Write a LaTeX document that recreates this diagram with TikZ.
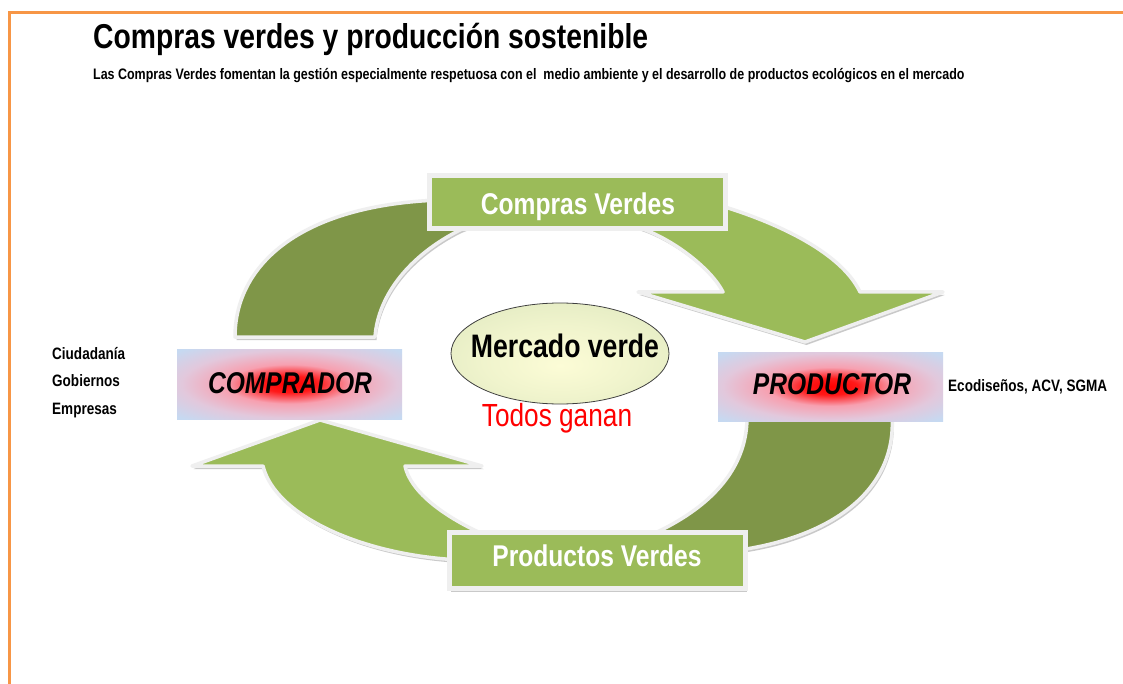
\documentclass[tikz,border=0pt]{standalone}
\usepackage{fontspec}
\setmainfont{Liberation Sans}[FakeStretch=0.82]
\usetikzlibrary{shapes.geometric,shadows}
\definecolor{darkband}{HTML}{7F9648}
\definecolor{boxgreen}{HTML}{9BBB59}
\definecolor{boxblue}{HTML}{C6D9F1}
\definecolor{pageorange}{HTML}{F79646}
\definecolor{outl}{HTML}{EFEFEF}
\definecolor{ellin}{HTML}{FCFCD6}
\definecolor{ellout}{HTML}{D3E0B6}
\definecolor{glowred}{HTML}{FF0000}
\definecolor{glowpink}{HTML}{F7A0B0}
\definecolor{glowpale}{HTML}{E2C8DC}
\pgfdeclareradialshading{redglow}{\pgfpoint{0bp}{0bp}}{color(0bp)=(glowred); color(6bp)=(glowred!90!white); color(14bp)=(glowpink); color(24bp)=(glowpale); color(34bp)=(boxblue); color(50bp)=(boxblue)}
\pgfdeclareradialshading{ellglow}{\pgfpoint{0bp}{-6bp}}{color(0bp)=(ellin); color(18bp)=(ellin!70!ellout); color(50bp)=(ellout)}
\tikzset{
  band/.style={draw=outl, line width=3.5, line join=round,
    drop shadow={shadow xshift=1.5pt, shadow yshift=-3pt, opacity=0.35, fill=black!60}},
  darkshape/.style={band, fill=darkband},
  lightshape/.style={band, fill=boxgreen},
  greenbox/.style={rectangle, fill=boxgreen, draw=outl, line width=5,
    drop shadow={shadow xshift=1.5pt, shadow yshift=-3pt, opacity=0.35, fill=black!60}},
  bluebox/.style={rectangle, shading=redglow, minimum width=225, minimum height=70, inner sep=0},
  boxtext/.style={text=white, font=\fontsize{30}{34}\selectfont\bfseries, inner sep=0},
  roletext/.style={text=black, font=\fontsize{30}{34}\selectfont\bfseries\itshape, inner sep=0},
  sidetext/.style={text=black, font=\fontsize{16.5}{19}\selectfont\bfseries, inner sep=0, anchor=base west},
}
\begin{document}
\begin{tikzpicture}[x=1pt,y=-1pt]
\useasboundingbox (0,0) rectangle (1123,684);
\fill[white] (0,0) rectangle (1123,684);
% page frame
\draw[pageorange, line width=3] (9,684) -- (9,13) -- (1123,13);

% title
\node[anchor=base west, inner sep=0, font=\fontsize{34.5}{40}\selectfont\bfseries] (title) at (93,48.5) {Compras verdes y producción sostenible};
\node[anchor=base west, inner sep=0, font=\fontsize{15.2}{17}\selectfont\bfseries] (subtitle) at (93,79.5) {Las Compras Verdes fomentan la gestión especialmente respetuosa con el\ \ medio ambiente y el desarrollo de productos ecológicos en el mercado};

% top-left dark band
\path[darkshape] (235,337) .. controls (235,265) and (300,205) .. (440,200) -- (470,200) -- (470,226) -- (460,230)
  .. controls (410,255) and (378,295) .. (375,337) -- cycle;
% top-right light arrow
\path[lightshape] (715,204) .. controls (770,220) and (840,250) .. (860,292) -- (943,292) -- (805,342) -- (638,292) -- (723,292)
  .. controls (712,270) and (675,240) .. (640,228) -- (640,205) -- cycle;
% bottom-right dark band
\path[darkshape] (747,415) -- (892,415) .. controls (897,485) and (840,535) .. (740,550) -- (650,550) -- (655,533)
  .. controls (715,505) and (748,465) .. (747,415) -- cycle;
% bottom-left light arrow
\path[lightshape] (263,466) -- (192,466) -- (320,420) -- (482,466) -- (405,466)
  .. controls (410,490) and (440,515) .. (485,535) -- (485,560) -- (460,560)
  .. controls (360,555) and (275,515) .. (263,466) -- cycle;

% green label boxes
\node[greenbox, minimum width=296, minimum height=53] (comprasbox) at (577.5,202) {};
\node[boxtext, anchor=base] (comprastxt) at (578,215) {Compras Verdes};
\node[greenbox, minimum width=296, minimum height=56] (productosbox) at (597.5,560.5) {};
\node[boxtext, anchor=base] (productostxt) at (597,566) {Productos Verdes};

% role boxes
\node[bluebox] (comprador) at (289.5,384) {};
\node[roletext, anchor=base] (compradortxt) at (290,393) {COMPRADOR};
\node[bluebox, minimum height=69] (productor) at (830.5,386.5) {};
\node[roletext, anchor=base] (productortxt) at (832,394) {PRODUCTOR};

% market ellipse
\node[ellipse, shading=ellglow, draw=black!75, line width=0.8, minimum width=218, minimum height=101, inner sep=0] (mercado) at (560,353.5) {};
\node[anchor=base, inner sep=0, font=\fontsize{32.5}{36}\selectfont\bfseries] (mercadotxt) at (565,357) {Mercado verde};
\node[anchor=base, inner sep=0, text=red, font=\fontsize{32}{36}\selectfont] (todos) at (557,426.5) {Todos ganan};

% side texts
\node[sidetext] (ciud) at (52,359) {Ciudadanía};
\node[sidetext] (gob) at (52,386) {Gobiernos};
\node[sidetext] (emp) at (52,414) {Empresas};
\node[sidetext] (eco) at (948,391) {Ecodiseños, ACV, SGMA};
\end{tikzpicture}
\end{document}
